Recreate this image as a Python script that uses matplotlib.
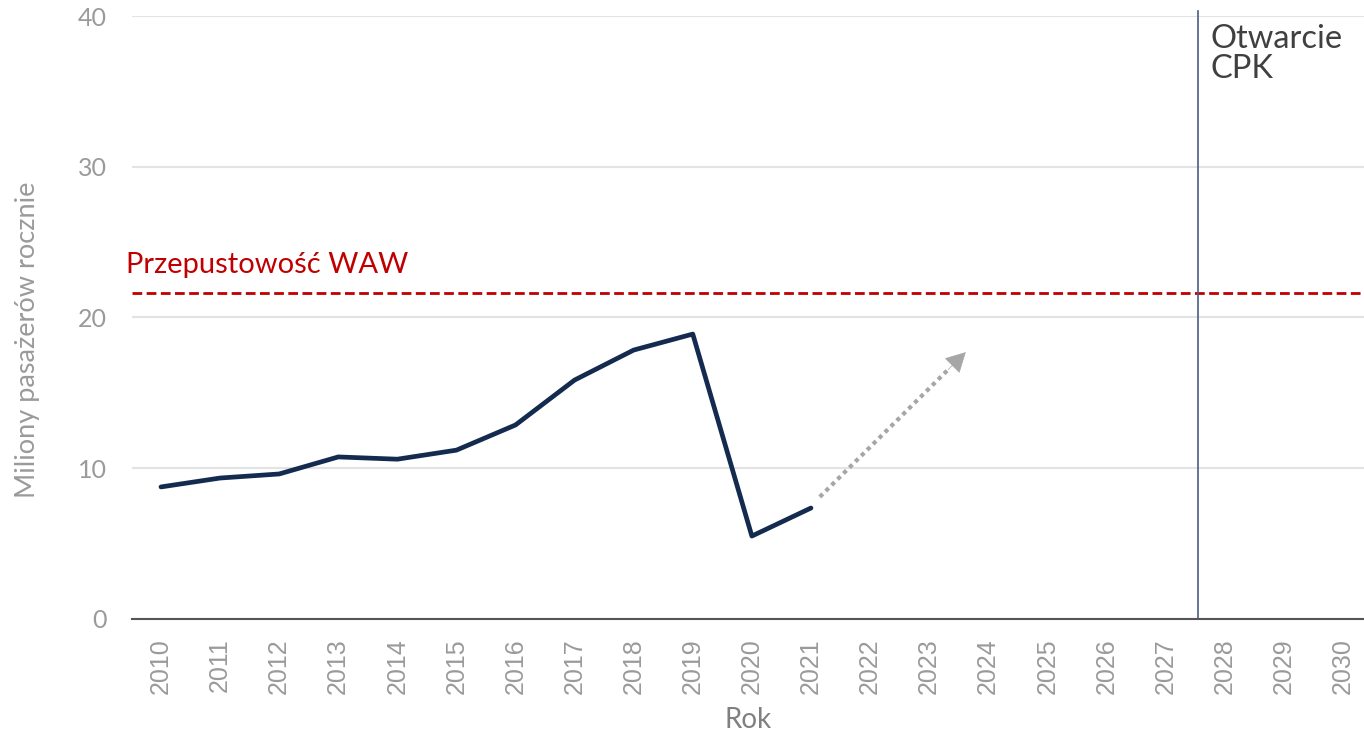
import matplotlib
matplotlib.use("Agg")
import matplotlib.pyplot as plt

# Passenger numbers at Warsaw Chopin (millions per year)
years = [str(y) for y in range(2010, 2031)]
hist_years = list(range(2010, 2022))
passengers = [8.76, 9.35, 9.62, 10.75, 10.6, 11.2, 12.87, 15.85, 17.84, 18.9, 5.5, 7.36]

capacity = 21.6           # Przepustowość WAW
cpk_opening = 2027.55     # Otwarcie CPK
trend_start = (2021.15, 8.1)
trend_end = (2023.62, 17.7)

navy = "#142b4f"
red = "#c00000"
grey_txt = "#9a9a9a"

fig = plt.figure(figsize=(13.64, 7.34), dpi=100)
ax = fig.add_axes([0.0968, 0.1567, 0.9032, 0.8215])

x = [y - 2010 for y in hist_years]
ax.plot(x, passengers, color=navy, lw=3.4, solid_capstyle="round", solid_joinstyle="round", zorder=4)

ax.axhline(capacity, color=red, lw=2, ls=(0, (3.5, 1.6)), zorder=3)
ax.text(-0.6, capacity + 1.0, "Przepustowość WAW", color=red, fontsize=21,
        family="Lato", va="bottom", ha="left")

cx = cpk_opening - 2010
ax.plot([cx, cx], [0, 40.3], color="#4a5f80", lw=1.2, clip_on=False, zorder=3)
ax.text(cx + 0.22, 39.5, "Otwarcie\nCPK", color="#404040", fontsize=23.5, family="Lato",
        va="top", ha="left", linespacing=1.0)

# trend arrow
sx, sy = trend_start[0] - 2010, trend_start[1]
ex, ey = trend_end[0] - 2010, trend_end[1]
fx = sx + (ex - sx) * 0.88
fy = sy + (ey - sy) * 0.88
ax.plot([sx, fx], [sy, fy], color="#a6a6a6", lw=3, ls=(0, (1, 1)), zorder=3)
ax.annotate("", xy=(ex, ey), xytext=(fx, fy),
            arrowprops=dict(arrowstyle="-|>,head_length=1.3,head_width=0.7",
                            color="#a6a6a6", lw=0.5, shrinkA=0, shrinkB=0), zorder=3)

ax.set_xlim(-0.49, 20.36)
ax.set_ylim(0, 40)
ax.set_xticks(range(len(years)))
ax.set_xticklabels(years, rotation=90, fontsize=18, color=grey_txt, family="Liberation Sans")
ax.set_yticks([0, 10, 20, 30, 40])
ax.set_yticklabels(["0", "10", "20", "30", "40"], fontsize=18, color=grey_txt, family="Lato")
ax.tick_params(axis="both", length=0)
ax.tick_params(axis="x", pad=14)
ax.tick_params(axis="y", pad=18)

ax.grid(axis="y", color="#e3e3e3", lw=1.5)
ax.set_axisbelow(True)
for s in ["top", "right", "left"]:
    ax.spines[s].set_visible(False)
ax.spines["bottom"].set_color("#555555")
ax.spines["bottom"].set_linewidth(1.5)
ax.spines["bottom"].set_zorder(5)

ax.set_ylabel("Miliony pasażerów rocznie", fontsize=19.5, color=grey_txt, family="Lato",
              va="center")
ax.yaxis.set_label_coords(-0.085, 0.463)
ax.set_xlabel("Rok", fontsize=20, color="#808080", family="Lato", va="center")
ax.xaxis.set_label_coords(0.5, -0.1675)

fig.savefig("out.png", dpi=100)
